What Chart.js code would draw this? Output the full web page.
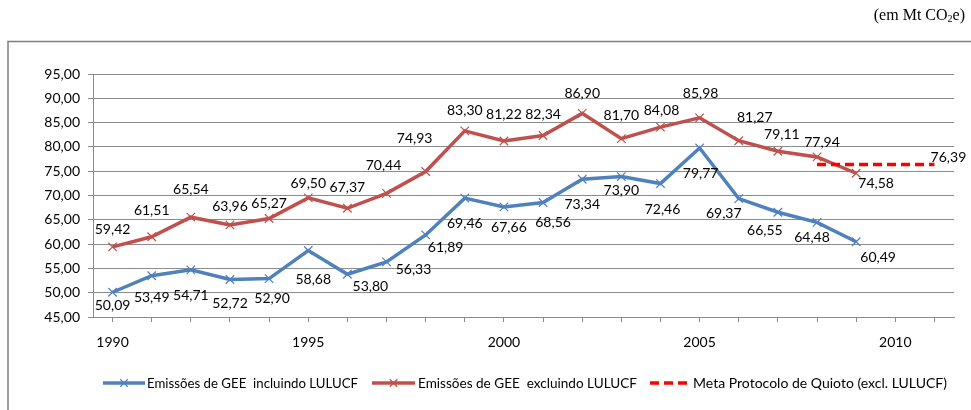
<!DOCTYPE html>
<html><head><meta charset="utf-8">
<script src="https://cdn.jsdelivr.net/npm/chart.js@4"></script>
<style>
body{margin:0;background:#fff;}
#wrap{position:relative;width:971px;height:410px;overflow:hidden;}
#unit{position:absolute;right:6px;top:6px;font:16px 'Liberation Serif','Times New Roman',serif;color:#000;white-space:nowrap;}
#unit sub{font-size:10px;vertical-align:-2px;line-height:0;}
</style></head><body>
<div id="wrap"><canvas id="c" width="971" height="410"></canvas><div id="unit">(em Mt CO<sub>2</sub>e)</div></div>
<script>
// ---- data ----
const years = [1990,1991,1992,1993,1994,1995,1996,1997,1998,1999,2000,2001,2002,2003,2004,2005,2006,2007,2008,2009,2010,2011];
const inclLULUCF = [50.09,53.49,54.71,52.72,52.90,58.68,53.80,56.33,61.89,69.46,67.66,68.56,73.34,73.90,72.46,79.77,69.37,66.55,64.48,60.49,null,null];
const exclLULUCF = [59.42,61.51,65.54,63.96,65.27,69.50,67.37,70.44,74.93,83.30,81.22,82.34,86.90,81.70,84.08,85.98,81.27,79.11,77.94,74.58,null,null];
const metaQuioto = [null,null,null,null,null,null,null,null,null,null,null,null,null,null,null,null,null,null,76.39,76.39,76.39,76.39];
const seriesNames = ['Emissões de GEE  incluindo LULUCF','Emissões de GEE  excluindo LULUCF','Meta Protocolo de Quioto (excl. LULUCF)'];
const yMin = 45, yMax = 95, yStep = 5;

// ---- label placement (pixel offsets from each point) ----
const inclOffsets = [[0,13],[0,22],[0,26],[0,24],[3,20],[5,29],[23,12],[27,8],[20,13],[0,25],[5,21],[10,20],[0,25],[0,14],[2,26],[1,25],[-15,15],[-13,18],[-5,15],[22,16]];
const exclOffsets = [[0,-17],[0,-26],[0,-28],[0,-18],[0,-15],[0,-14],[0,-21],[-3,-28],[-11,-33],[0,-20],[0,-26],[0,-21],[0,-20],[0,-23],[1,-17],[1,-24],[16,-23],[4,-17],[5,-14],[20,10]];
const metaOffsets = []; metaOffsets[21] = [14,-7];

const BLUE = '#4F81BD', RED = '#C0504D', META = '#FF0000', GRID = '#8C8C8C';
const FONT = "Lato, 'Open Sans', sans-serif";
const fmt = v => v.toFixed(2).replace('.', ',');

const labelPlugin = {
  id: 'pointLabels',
  afterDatasetsDraw(chart) {
    const ctx = chart.ctx;
    const offs = [inclOffsets, exclOffsets, metaOffsets];
    ctx.save();
    ctx.font = '14px ' + FONT;
    ctx.fillStyle = '#000';
    ctx.textAlign = 'center';
    ctx.textBaseline = 'middle';
    chart.data.datasets.forEach((ds, i) => {
      const meta = chart.getDatasetMeta(i);
      meta.data.forEach((el, j) => {
        const v = ds.data[j];
        const o = offs[i][j];
        if (v == null || !o) return;
        ctx.fillText(fmt(v), el.x + o[0], el.y + o[1]);
      });
    });
    ctx.restore();
  }
};

const frameLegendPlugin = {
  id: 'frameLegend',
  beforeDraw(chart) {
    const ctx = chart.ctx;
    ctx.save();
    ctx.strokeStyle = '#7F7F7F';
    ctx.lineWidth = 1.5;
    ctx.strokeRect(8, 41.5, 1000, 420);
    ctx.restore();
  },
  afterDraw(chart) {
    const ctx = chart.ctx;
    const y = 383;
    const items = [
      {x0:103, x1:145, tx:147, tw:211, color:BLUE, dash:[], marker:true},
      {x0:372, x1:415, tx:418, tw:219, color:RED, dash:[], marker:true},
      {x0:650, x1:688, tx:693, tw:254, color:META, dash:[9,5], marker:false}
    ];
    ctx.save();
    items.forEach((it, i) => {
      ctx.beginPath();
      ctx.strokeStyle = it.color;
      ctx.lineWidth = 3.5;
      ctx.setLineDash(it.dash);
      ctx.moveTo(it.x0, y); ctx.lineTo(it.x1, y);
      ctx.stroke();
      ctx.setLineDash([]);
      if (it.marker) {
        const cx = (it.x0 + it.x1) / 2, r = 5;
        ctx.beginPath();
        ctx.lineWidth = 1.2;
        ctx.moveTo(cx - r*0.75, y - r*0.75); ctx.lineTo(cx + r*0.75, y + r*0.75);
        ctx.moveTo(cx - r*0.75, y + r*0.75); ctx.lineTo(cx + r*0.75, y - r*0.75);
        ctx.stroke();
      }
      ctx.font = '14px ' + FONT;
      ctx.fillStyle = '#000';
      ctx.textAlign = 'left';
      ctx.textBaseline = 'middle';
      const w = ctx.measureText(seriesNames[i]).width;
      ctx.save();
      ctx.translate(it.tx, y);
      ctx.scale(it.tw / w, 1);
      ctx.fillText(seriesNames[i], 0, 0);
      ctx.restore();
    });
    ctx.restore();
  }
};

new Chart(document.getElementById('c'), {
  type: 'line',
  data: {
    labels: years,
    datasets: [
      {label: seriesNames[0], data: inclLULUCF, borderColor: BLUE, backgroundColor: BLUE, borderWidth: 3.5,
       pointStyle: 'crossRot', pointRadius: 6, pointBorderWidth: 1.2, pointBorderColor: BLUE, order: 2, tension: 0},
      {label: seriesNames[1], data: exclLULUCF, borderColor: RED, backgroundColor: RED, borderWidth: 3.5,
       pointStyle: 'crossRot', pointRadius: 6, pointBorderWidth: 1.2, pointBorderColor: RED, order: 1, tension: 0},
      {label: seriesNames[2], data: metaQuioto, borderColor: META, backgroundColor: META, borderWidth: 3.5,
       borderDash: [9,5], pointRadius: 0, order: 0, tension: 0}
    ]
  },
  options: {
    responsive: false,
    animation: false,
    devicePixelRatio: 1,
    layout: {padding: {top: 74, left: 8, right: 17, bottom: 0}},
    plugins: {legend: {display: false}, tooltip: {enabled: false}},
    scales: {
      x: {
        type: 'category',
        offset: true,
        grid: {display: true, drawOnChartArea: false, offset: false, tickLength: 5, color: GRID},
        border: {display: true, color: GRID},
        ticks: {autoSkip: false, maxRotation: 0, padding: 12, color: '#000', font: {family: FONT, size: 14},
                callback: function(v, i) { const yr = years[i]; return yr % 5 === 0 ? String(yr) : ''; }},
        afterFit: s => { s.height = 93; }
      },
      y: {
        min: yMin, max: yMax,
        ticks: {stepSize: yStep, padding: 8, color: '#000', font: {family: FONT, size: 14}, callback: v => fmt(v)},
        grid: {color: GRID, tickLength: 5},
        border: {display: true, color: GRID},
        afterFit: s => { s.width = 85; }
      }
    }
  },
  plugins: [frameLegendPlugin, labelPlugin]
});
</script>
</body></html>
